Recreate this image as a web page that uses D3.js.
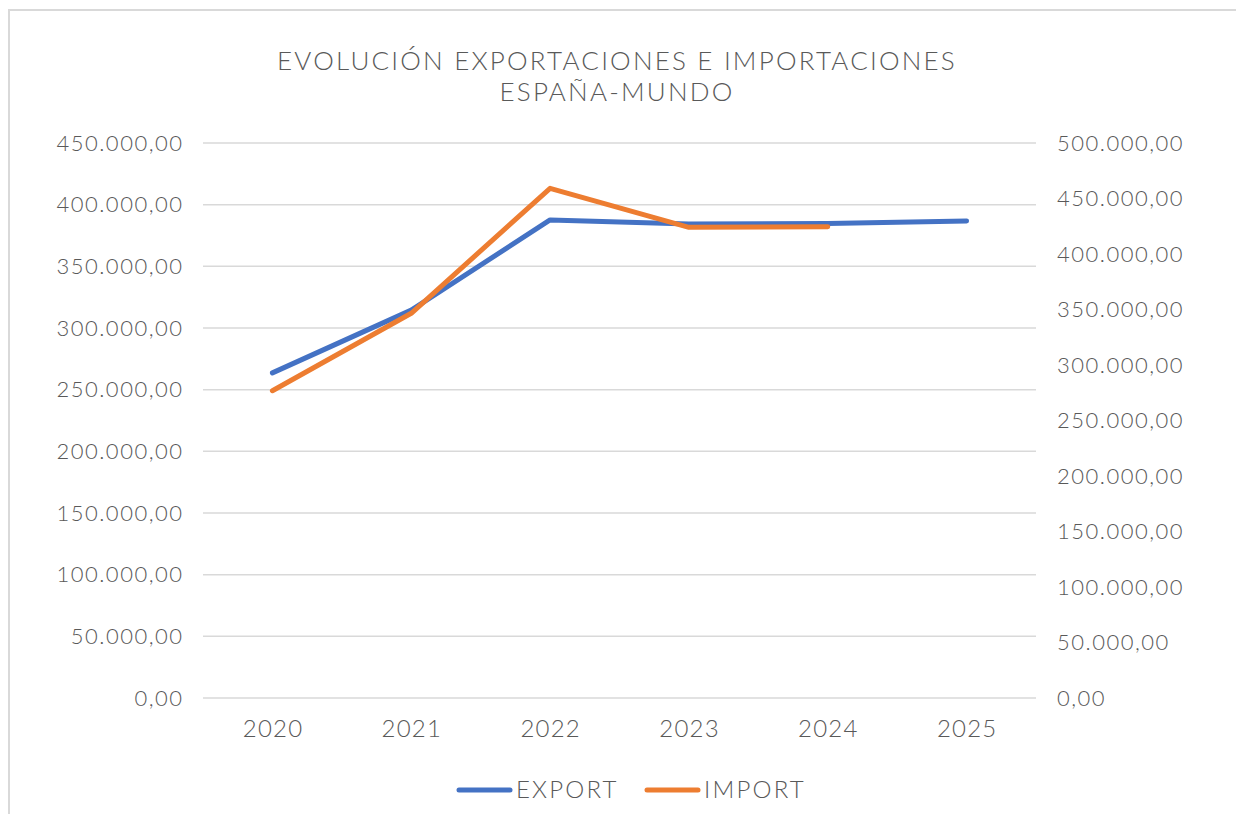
<!DOCTYPE html>
<html><head><meta charset="utf-8">
<script src="https://cdn.jsdelivr.net/npm/d3@7"></script>
<style>body{margin:0;background:#fff}svg{display:block}</style>
</head><body><svg id="c" width="1236" height="814"></svg>
<script>
const categories = ["2020","2021","2022","2023","2024","2025"];
const exportValues = [263600, 314500, 387600, 384300, 384700, 386800];
const importValues = [276800, 346600, 459200, 424000, 424600, null];
const leftTicks = [0,50000,100000,150000,200000,250000,300000,350000,400000,450000];
const rightTicks = [0,50000,100000,150000,200000,250000,300000,350000,400000,450000,500000];
const titleLines = ["EVOLUCIÓN EXPORTACIONES E IMPORTACIONES","ESPAÑA-MUNDO"];
const seriesNames = ["EXPORT","IMPORT"];
const colors = ["#4472C4","#ED7D31"];

const svg = d3.select("#c");
const font = "Lato, 'Open Sans', sans-serif";
const textColor = "#595959";
svg.append("rect").attr("x",9).attr("y",10).attr("width",1300).attr("height",900)
  .attr("fill","#fff").attr("stroke","#d9d9d9").attr("stroke-width",2);

const L=203, R=1036, T=143, B=698;
const x = d3.scaleBand().domain(categories).range([L,R]);
const yL = d3.scaleLinear().domain([0,450000]).range([B,T]);
const yR = d3.scaleLinear().domain([0,500000]).range([B,T]);
const fmt = v => d3.format(",.2f")(v).replace(/,/g,"X").replace(/\./g,",").replace(/X/g,".");

// grid
svg.append("g").selectAll("line").data(leftTicks).join("line")
  .attr("x1",L).attr("x2",R).attr("y1",d=>yL(d)).attr("y2",d=>yL(d))
  .attr("stroke","#d9d9d9").attr("stroke-width",1.5);

const axL = svg.append("g").attr("transform",`translate(${L},0)`)
  .call(d3.axisLeft(yL).tickValues(leftTicks).tickFormat(fmt).tickSize(0).tickPadding(19.5));
const axR = svg.append("g").attr("transform",`translate(${R},0)`)
  .call(d3.axisRight(yR).tickValues(rightTicks).tickFormat(fmt).tickSize(0).tickPadding(21));
const axX = svg.append("g").attr("transform",`translate(0,${B})`)
  .call(d3.axisBottom(x).tickSize(0).tickPadding(22));
[axL,axR].forEach(a=>{
  a.select(".domain").remove();
  a.selectAll("text").attr("font-family",font).attr("font-size",22).attr("fill",textColor)
    .attr("font-weight",300).attr("letter-spacing",1.5);
});
axX.select(".domain").remove();
axX.selectAll("text").attr("font-family",font).attr("font-size",24).attr("fill",textColor)
  .attr("font-weight",300).attr("letter-spacing",1.2).attr("dx",0.6);

const lineL = d3.line().defined(d=>d!=null).x((d,i)=>x(categories[i])+x.bandwidth()/2).y(d=>yL(d));
const lineR = d3.line().defined(d=>d!=null).x((d,i)=>x(categories[i])+x.bandwidth()/2).y(d=>yR(d));
svg.append("path").datum(exportValues).attr("d",lineL).attr("fill","none")
  .attr("stroke",colors[0]).attr("stroke-width",5).attr("stroke-linecap","round").attr("stroke-linejoin","round");
svg.append("path").datum(importValues).attr("d",lineR).attr("fill","none")
  .attr("stroke",colors[1]).attr("stroke-width",5).attr("stroke-linecap","round").attr("stroke-linejoin","round");

// title
titleLines.forEach((t,i)=>{
  svg.append("text").attr("x",617).attr("y",69.5 + i*31.5).attr("text-anchor","middle")
    .attr("font-family",font).attr("font-size",26).attr("font-weight",300).attr("fill",textColor)
    .attr("letter-spacing",2.2).text(t);
});

// legend
const legX = [457,645];
seriesNames.forEach((n,i)=>{
  svg.append("line").attr("x1",legX[i]+2).attr("x2",legX[i]+53).attr("y1",790).attr("y2",790)
    .attr("stroke",colors[i]).attr("stroke-width",5).attr("stroke-linecap","round");
  svg.append("text").attr("x",legX[i]+59).attr("y",798).attr("font-family",font).attr("font-size",24)
    .attr("font-weight",300).attr("fill",textColor).attr("letter-spacing",2.2).text(n);
});
</script></body></html>
